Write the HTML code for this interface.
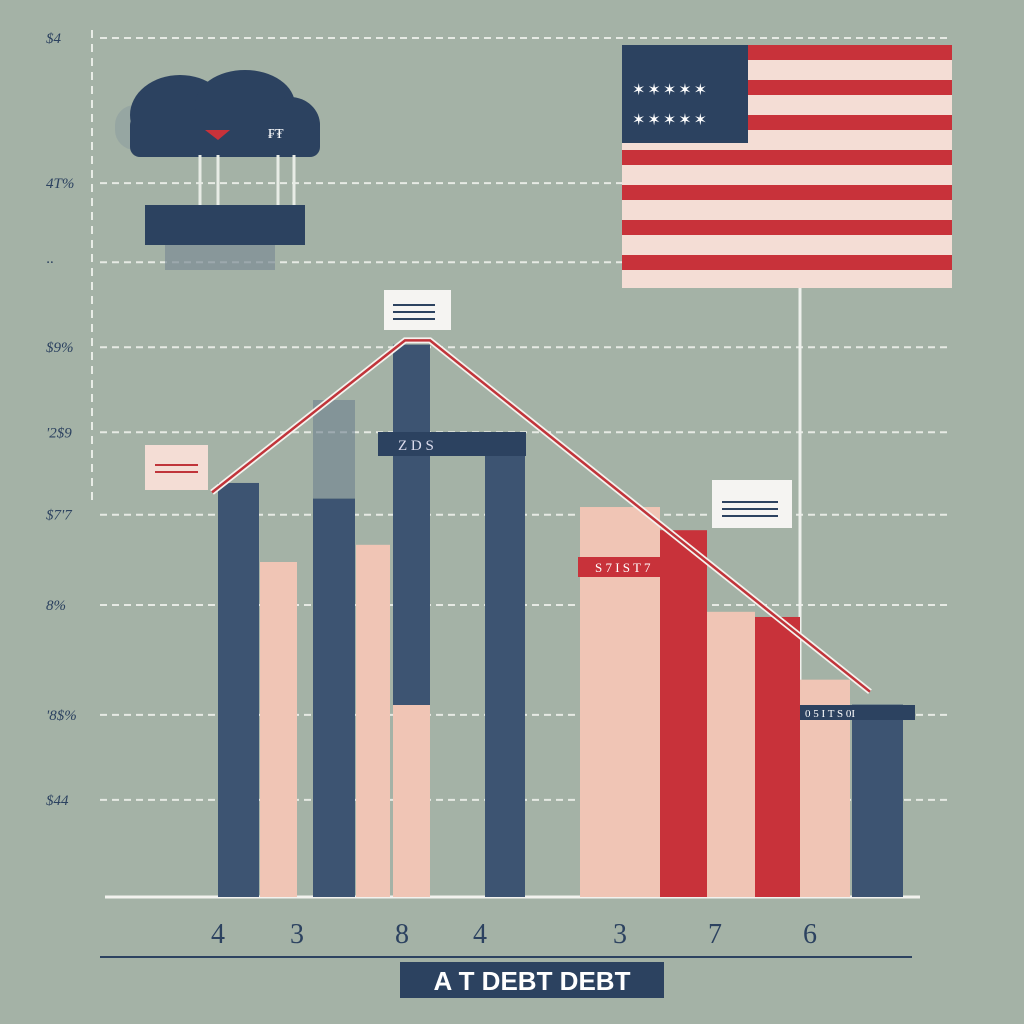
<!DOCTYPE html>
<html><head><meta charset="utf-8"><style>
html,body{margin:0;padding:0;background:#a4b2a6;}
svg{display:block;font-family:"Liberation Serif",serif;}
</style></head><body>
<svg id="chart" width="1024" height="1024" viewBox="0 0 1024 1024" xmlns="http://www.w3.org/2000/svg">
<rect x="0" y="0" width="1024" height="1024" fill="#a4b2a6"/>
<g id="grid"></g>
<g id="ylabels"></g>
<line x1="92" y1="30" x2="92" y2="500" stroke="#e8ece6" stroke-width="2" stroke-dasharray="8,6"/>
<g>
<rect x="115" y="105" width="205" height="45" rx="20" fill="#8e9fa0" opacity="0.6"/>
<ellipse cx="180" cy="115" rx="50" ry="40" fill="#2c4260"/>
<ellipse cx="245" cy="105" rx="50" ry="35" fill="#2c4260"/>
<ellipse cx="290" cy="125" rx="30" ry="28" fill="#2c4260"/>
<rect x="130" y="115" width="190" height="42" rx="10" fill="#2c4260"/>
<path d="M205 130 L230 130 L218 140 Z" fill="#c8323a"/>
<text x="268" y="138" fill="#fff" font-size="14">₣₮</text>
<g stroke="#e8ece6" stroke-width="3"><line x1="200" y1="155" x2="200" y2="205"/><line x1="218" y1="155" x2="218" y2="205"/><line x1="278" y1="155" x2="278" y2="205"/><line x1="294" y1="155" x2="294" y2="205"/></g>
<rect x="145" y="205" width="160" height="40" fill="#2c4260"/>
<rect x="165" y="245" width="110" height="25" fill="#7c8c96" opacity="0.7"/>
</g>
<g>
<rect x="622" y="45" width="330" height="243" fill="#f4ddd5"/>
<g id="stripes"></g>
<rect x="622" y="45" width="126" height="98" fill="#2c4260"/>
<text x="632" y="95" fill="#fff" font-size="16" letter-spacing="2">✶✶✶✶✶</text>
<text x="632" y="125" fill="#fff" font-size="16" letter-spacing="2">✶✶✶✶✶</text>
<line x1="800" y1="288" x2="800" y2="690" stroke="#eef0ec" stroke-width="3"/>
</g>
<line x1="105" y1="897" x2="920" y2="897" stroke="#f2f2ee" stroke-width="3"/>
<g id="bars"></g>
<rect x="393" y="705" width="37" height="192" fill="#f0c5b5"/>
<rect x="313" y="400" width="42" height="98" fill="#6e8090" opacity="0.6"/>
<polyline id="trend" fill="none" stroke="#f5f2ee" stroke-width="6"/>
<polyline id="trend2" fill="none" stroke="#c0343a" stroke-width="2.5"/>
<g>
<rect x="384" y="290" width="67" height="40" fill="#f5f4f2"/><g stroke="#2c4260" stroke-width="2"><line x1="393" y1="305" x2="435" y2="305"/><line x1="393" y1="312" x2="435" y2="312"/><line x1="393" y1="319" x2="435" y2="319"/></g>
<rect x="145" y="445" width="63" height="45" fill="#f4ddd5"/><g stroke="#c0343a" stroke-width="2"><line x1="155" y1="465" x2="198" y2="465"/><line x1="155" y1="472" x2="198" y2="472"/></g>
<rect x="712" y="480" width="80" height="48" fill="#f5f4f2"/><g stroke="#2c4260" stroke-width="2"><line x1="722" y1="502" x2="778" y2="502"/><line x1="722" y1="509" x2="778" y2="509"/><line x1="722" y1="516" x2="778" y2="516"/></g>
<rect x="378" y="432" width="148" height="24" fill="#2c4260"/><text x="398" y="450" fill="#dde" font-size="15">Z D S</text>
<rect x="578" y="557" width="92" height="20" fill="#c8323a"/><text x="595" y="572" fill="#fff" font-size="13">S 7 I  S T 7</text>
<rect x="800" y="705" width="115" height="15" fill="#2c4260"/><text x="805" y="717" fill="#fff" font-size="11">0 5 I T    S 0I</text>
</g>
<g id="xlabels"></g>
<line x1="100" y1="957" x2="912" y2="957" stroke="#2c4260" stroke-width="2"/>
<rect x="400" y="962" width="264" height="36" fill="#2c4260"/>
<text x="532" y="990" text-anchor="middle" fill="#fff" font-size="26" font-weight="bold" font-family="Liberation Sans, sans-serif">A T DEBT DEBT</text>
<script>
const yTicks=["$4","4T%","··","$9%","'2$9","$7'7","8%","'8$%","$44"];
const yTickVals=[100,83.1,73.9,64,54.1,44.5,34,21.2,11.3];
const barColors=["#3d5472","#f0c5b5","#3d5472","#f0c5b5","#3d5472","#3d5472","#f0c5b5","#c8323a","#f0c5b5","#c8323a","#f0c5b5","#3d5472"];
const barStarts=[218,260,313,356,393,485,580,660,707,755,800,852];
const barEnds=[259,297,355,390,430,525,660,707,755,800,850,903];
const barValues=[48.2,39,46.4,41,64.3,53.2,45.4,42.7,33.2,32.6,25.3,22.4];
const xCats=["4","3","8","4","3","7","6"];
const xCatPos=[218,297,402,480,620,715,810];
const trendX=[212,405,430,870];
const trendVals=[47.1,64.8,64.8,23.9];
const ns="http://www.w3.org/2000/svg";
function y(v){return 897-v*(897-38)/100;}
const grid=document.getElementById('grid'),yl=document.getElementById('ylabels');
yTickVals.forEach((v,i)=>{
 const l=document.createElementNS(ns,'line');
 
 
 l.setAttribute('x1',100);l.setAttribute('x2',950);l.setAttribute('y1',y(v));l.setAttribute('y2',y(v));
 l.setAttribute('stroke','#e6eae4');l.setAttribute('stroke-width','2');l.setAttribute('stroke-dasharray','7,5');
 grid.appendChild(l);
 const t=document.createElementNS(ns,'text');
 
 
 t.setAttribute('x',46);t.setAttribute('y',y(v)+5);t.setAttribute('font-size','15');t.setAttribute('fill','#2c4260');t.setAttribute('font-style','italic');
 t.textContent=yTicks[i];yl.appendChild(t);
});
const st=document.getElementById('stripes');
for(let i=0;i<7;i++){const r=document.createElementNS(ns,'rect');
 
 
 r.setAttribute('x',622);r.setAttribute('y',45+i*35);r.setAttribute('width',330);r.setAttribute('height',15);r.setAttribute('fill','#c8323a');st.appendChild(r);}
const bars=document.getElementById('bars');
barValues.forEach((v,i)=>{const r=document.createElementNS(ns,'rect');
 
 
 r.setAttribute('x',barStarts[i]);r.setAttribute('y',y(v));r.setAttribute('width',barEnds[i]-barStarts[i]);r.setAttribute('height',897-y(v));r.setAttribute('fill',barColors[i]);bars.appendChild(r);});
const pts=trendX.map((x,i)=>x+','+y(trendVals[i])).join(' ');
document.getElementById('trend').setAttribute('points',pts);
document.getElementById('trend2').setAttribute('points',pts);
const xl=document.getElementById('xlabels');
xCats.forEach((c,i)=>{const t=document.createElementNS(ns,'text');
 
 
 t.setAttribute('x',xCatPos[i]);t.setAttribute('y',943);t.setAttribute('font-size','28');t.setAttribute('fill','#2c4260');t.setAttribute('text-anchor','middle');
 t.textContent=c;xl.appendChild(t);});
</script>
</svg>
</body></html>
